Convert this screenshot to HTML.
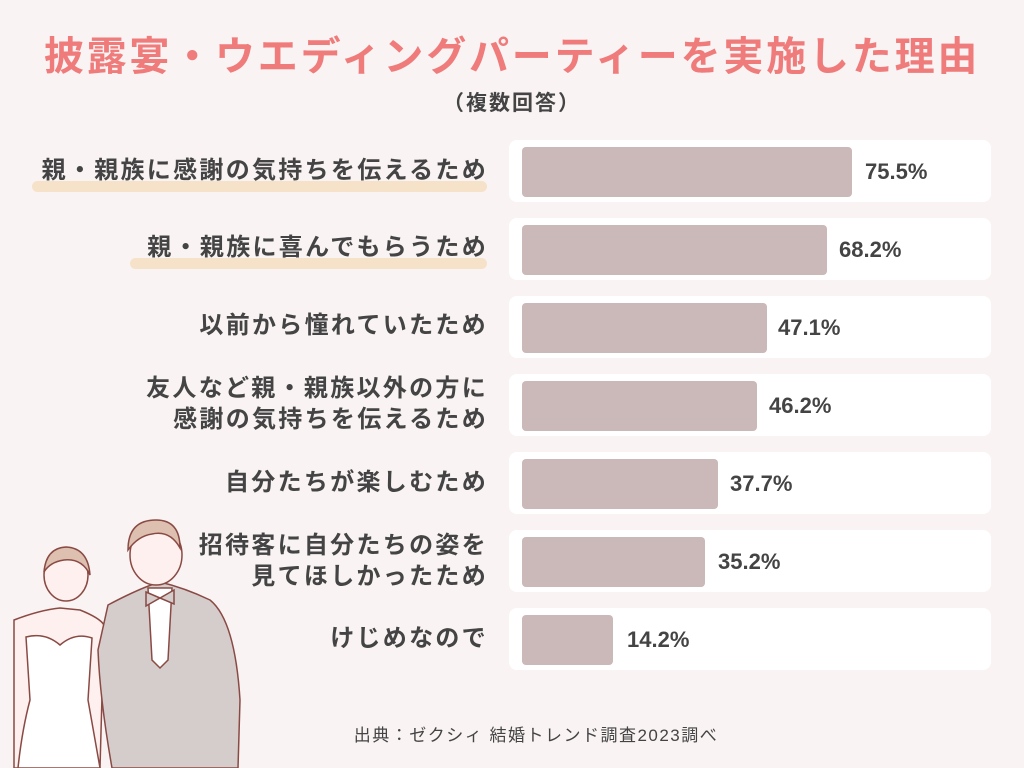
<!DOCTYPE html>
<html><head><meta charset="utf-8"><style>
body{margin:0;width:1024px;height:768px;background:#f9f3f3;position:relative;overflow:hidden;font-family:"Liberation Sans","Noto Sans CJK JP",sans-serif;color:#444}
.t{position:absolute;left:0;width:1024px;text-align:center;font-weight:bold}
.card{position:absolute;left:509px;width:482px;height:62px;background:#fff;border-radius:8px}
.bar{position:absolute;left:13px;top:7px;height:50px;background:#cbb8b8;border-radius:4px}
.v{position:absolute;top:19px;font-size:22px;font-weight:bold;color:#444}
.lab{position:absolute;right:536px;text-align:right;font-size:24px;font-weight:bold;line-height:31px;color:#444;letter-spacing:2.3px}
.hl{position:absolute;height:11px;background:#f6e2c8;border-radius:6px}
</style></head><body>
<div class="t" style="top:24px;font-size:40px;color:#ef7b7b;letter-spacing:2.8px">披露宴・ウエディングパーティーを実施した理由</div>
<div class="t" style="top:87px;font-size:21px;color:#444;letter-spacing:2px">（複数回答）</div>

<div class="hl" style="left:32px;top:181px;width:455px"></div>
<div class="hl" style="left:130px;top:258px;width:357px"></div>

<div class="lab" style="top:155px">親・親族に感謝の気持ちを伝えるため</div>
<div class="lab" style="top:232px">親・親族に喜んでもらうため</div>
<div class="lab" style="top:310px">以前から憧れていたため</div>
<div class="lab" style="top:373px">友人など親・親族以外の方に<br>感謝の気持ちを伝えるため</div>
<div class="lab" style="top:467px">自分たちが楽しむため</div>
<div class="lab" style="top:530px">招待客に自分たちの姿を<br>見てほしかったため</div>
<div class="lab" style="top:623px">けじめなので</div>

<div class="card" style="top:140px"><div class="bar" style="width:330px"></div><div class="v" style="left:356px">75.5%</div></div>
<div class="card" style="top:218px"><div class="bar" style="width:305px"></div><div class="v" style="left:330px">68.2%</div></div>
<div class="card" style="top:296px"><div class="bar" style="width:245px"></div><div class="v" style="left:269px">47.1%</div></div>
<div class="card" style="top:374px"><div class="bar" style="width:235px"></div><div class="v" style="left:260px">46.2%</div></div>
<div class="card" style="top:452px"><div class="bar" style="width:196px"></div><div class="v" style="left:221px">37.7%</div></div>
<div class="card" style="top:530px"><div class="bar" style="width:183px"></div><div class="v" style="left:209px">35.2%</div></div>
<div class="card" style="top:608px"><div class="bar" style="width:91px"></div><div class="v" style="left:118px">14.2%</div></div>

<div class="t" style="top:721px;left:24px;font-size:17px;font-weight:normal;color:#444;letter-spacing:1.5px">出典：ゼクシィ 結婚トレンド調査2023調べ</div>

<svg style="position:absolute;left:0;top:500px" width="260" height="268" viewBox="0 0 260 268" fill="none" stroke="#8a4a44" stroke-width="1.5">
<path d="M14 120 Q40 110 60 108 L80 110 Q100 118 104 125 L100 268 L14 268 Z" fill="#fdf0ee"/>
<path d="M26 137 Q45 132 60 145 Q75 132 92 138 L88 200 Q95 240 100 268 L18 268 Q22 230 30 200 Z" fill="#fff"/>
<ellipse cx="66" cy="75" rx="22" ry="26" fill="#fdf0ee"/>
<path d="M44 72 Q46 48 66 47 Q88 48 90 75 Q82 58 64 60 Q50 62 44 72Z" fill="#ddc0b0"/>
<path d="M108 105 Q140 88 160 82 Q185 88 210 100 Q235 120 240 200 L238 268 L112 268 Q100 200 98 150 Z" fill="#d4cdcc"/>
<path d="M148 88 L172 88 L168 160 L160 168 L152 160Z" fill="#fff"/>
<path d="M146 92 L160 98 L174 90 L174 104 L160 98 L146 106Z" fill="#d4cdcc"/>
<ellipse cx="156" cy="55" rx="26" ry="30" fill="#fdf0ee"/>
<path d="M128 50 Q128 20 156 20 Q180 20 180 48 Q170 30 152 34 Q138 36 128 50Z" fill="#ddc0b0"/>
</svg>
</body></html>
